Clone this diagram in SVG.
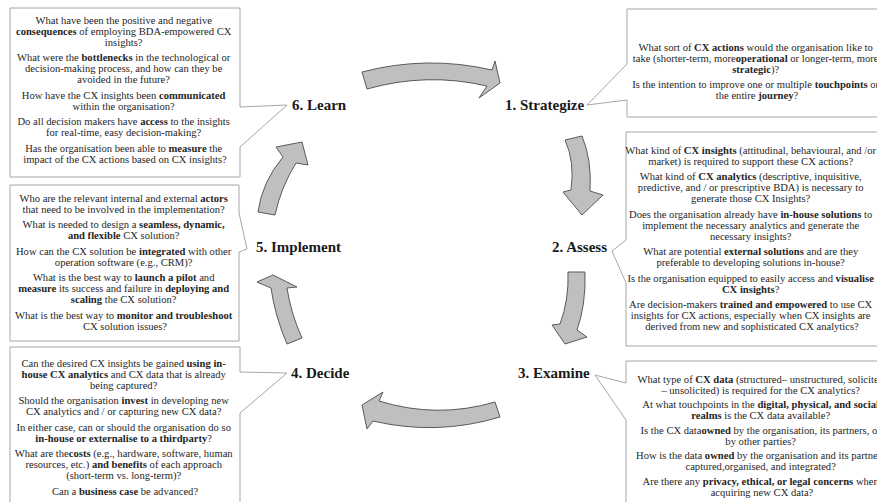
<svg xmlns="http://www.w3.org/2000/svg" width="877" height="502" viewBox="0 0 877 502">
<style>
.box{fill:#fff;stroke:#a6a6a6;stroke-width:1}
.arr{fill:#bfbfbf;stroke:#5a5a5a;stroke-width:1;stroke-linejoin:miter}
.t{font-family:"Liberation Serif","Times New Roman",serif;font-size:10.6px;fill:#262626;text-anchor:middle}
.t tspan.b,.b{font-weight:bold}
.lbl{font-family:"Liberation Serif","Times New Roman",serif;font-size:15px;font-weight:bold;fill:#1a1a1a}
</style>
<rect width="877" height="502" fill="#fff"/>

<g id="connectors">
<path class="arr" d="M362,72 Q427,55 492,70 L495,61 L500,83 L479,98 L487,86 Q427,72 367,89 Z"/>
<path class="arr" d="M565,140 L582,136 Q592,160 590,191 L603,195 L582,215 L563,192 L571,190 Q575,162 565,140 Z"/>
<path class="arr" d="M568,272 L585,272 Q586,305 577,330 L587,337 L565,344 L552,325 L560,324 Q569,300 568,272 Z"/>
<path class="arr" d="M495,402 Q437,419 379,401 L383,392 L362,405 L367,429 L373,421 Q437,436 500,417 Z"/>
<path class="arr" d="M287,344 Q275,316 271,288 L257,282 L273,275 L297,287 L287,288 Q291,314 302,338 Z"/>
<path class="arr" d="M258,212 Q262,182 283,157 L276,147 L302,142 L308,165 L296,163 Q281,187 275,215 Z"/>
</g>

<g id="learn">
<path class="box" d="M10,8 H240 V107 L287,105 L240,147 V177 H10 Z"/>
<text class="lbl" x="292" y="110">6. Learn</text>
<text class="t">
<tspan x="125" y="23.5">What have been the positive and negative</tspan>
<tspan x="125" y="34.5"><tspan class="b">consequences</tspan> of employing BDA-empowered CX</tspan>
<tspan x="125" y="45.5">insights?</tspan>
<tspan x="125" y="61">What were the <tspan class="b">bottlenecks</tspan> in the technological or</tspan>
<tspan x="125" y="72">decision-making process, and how can they be</tspan>
<tspan x="125" y="83">avoided in the future?</tspan>
<tspan x="125" y="98.5">How have the CX insights been <tspan class="b">communicated</tspan></tspan>
<tspan x="125" y="109.5">within the organisation?</tspan>
<tspan x="125" y="125">Do all decision makers have <tspan class="b">access</tspan> to the insights</tspan>
<tspan x="125" y="136">for real-time, easy decision-making?</tspan>
<tspan x="125" y="151.5">Has the organisation been able to <tspan class="b">measure</tspan> the</tspan>
<tspan x="125" y="162.5">impact of the CX actions based on CX insights?</tspan>
</text>
</g>

<g id="implement">
<path class="box" d="M10,185 H239 V213 L247,249 L239,252 V341 H10 Z"/>
<text class="lbl" x="256" y="252">5. Implement</text>
<text class="t">
<tspan x="125" y="201.5">Who are the relevant internal and external <tspan class="b">actors</tspan></tspan>
<tspan x="125" y="212.5">that need to be involved in the implementation?</tspan>
<tspan x="125" y="228">What is needed to design a <tspan class="b">seamless, dynamic,</tspan></tspan>
<tspan x="125" y="239"><tspan class="b">and flexible</tspan> CX solution?</tspan>
<tspan x="125" y="254.5">How can the CX solution be <tspan class="b">integrated</tspan> with other</tspan>
<tspan x="125" y="265.5">operation software (e.g., CRM)?</tspan>
<tspan x="125" y="281">What is the best way to <tspan class="b">launch a pilot</tspan> and</tspan>
<tspan x="125" y="292"><tspan class="b">measure</tspan> its success and failure in <tspan class="b">deploying and</tspan></tspan>
<tspan x="125" y="303"><tspan class="b">scaling</tspan> the CX solution?</tspan>
<tspan x="125" y="318.5">What is the best way to <tspan class="b">monitor and troubleshoot</tspan></tspan>
<tspan x="125" y="329.5">CX solution issues?</tspan>
</text>
</g>

<g id="decide">
<path class="box" d="M10,347 H240 V372 L287,373 L240,413 V512 H10 Z"/>
<text class="lbl" x="291" y="378">4. Decide</text>
<text class="t">
<tspan x="125" y="366.5">Can the desired CX insights be gained <tspan class="b">using in-</tspan></tspan>
<tspan x="125" y="377.5"><tspan class="b">house CX analytics</tspan> and CX data that is already</tspan>
<tspan x="125" y="388.5">being captured?</tspan>
<tspan x="125" y="404">Should the organisation <tspan class="b">invest</tspan> in developing new</tspan>
<tspan x="125" y="415">CX analytics and / or capturing new CX data?</tspan>
<tspan x="125" y="430.5">In either case, can or should the organisation do so</tspan>
<tspan x="125" y="441.5"><tspan class="b">in-house or externalise to a thirdparty</tspan>?</tspan>
<tspan x="125" y="457">What are the<tspan class="b">costs</tspan> (e.g., hardware, software, human</tspan>
<tspan x="125" y="468">resources, etc.) <tspan class="b">and benefits</tspan> of each approach</tspan>
<tspan x="125" y="479">(short-term vs. long-term)?</tspan>
<tspan x="125" y="494.5">Can a <tspan class="b">business case</tspan> be advanced?</tspan>
</text>
</g>

<g id="strategize">
<path class="box" d="M627,9 H892 V117 H627 V100 L587,105 L627,64 Z"/>
<text class="lbl" x="505" y="110">1. Strategize</text>
<text class="t">
<tspan x="757" y="50.5">What sort of <tspan class="b">CX actions</tspan> would the organisation like to</tspan>
<tspan x="757" y="61.5">take (shorter-term, more<tspan class="b">operational</tspan> or longer-term, more</tspan>
<tspan x="757" y="72.5"><tspan class="b">strategic</tspan>)?</tspan>
<tspan x="757" y="88">Is the intention to improve one or multiple <tspan class="b">touchpoints</tspan> or</tspan>
<tspan x="757" y="99">the entire <tspan class="b">journey</tspan>?</tspan>
</text>
</g>

<g id="assess">
<path class="box" d="M626,132 H892 V346 H626 V283 L612,251 L626,240 Z"/>
<text class="lbl" x="552" y="252">2. Assess</text>
<text class="t">
<tspan x="752" y="153.5">What kind of <tspan class="b">CX insights</tspan> (attitudinal, behavioural, and /or</tspan>
<tspan x="752" y="164.5">market) is required to support these CX actions?</tspan>
<tspan x="752" y="180">What kind of <tspan class="b">CX analytics</tspan> (descriptive, inquisitive,</tspan>
<tspan x="752" y="191">predictive, and / or prescriptive BDA) is necessary to</tspan>
<tspan x="752" y="202">generate those CX Insights?</tspan>
<tspan x="752" y="217.5">Does the organisation already have <tspan class="b">in-house solutions</tspan> to</tspan>
<tspan x="752" y="228.5">implement the necessary analytics and generate the</tspan>
<tspan x="752" y="239.5">necessary insights?</tspan>
<tspan x="752" y="255">What are potential <tspan class="b">external solutions</tspan> and are they</tspan>
<tspan x="752" y="266">preferable to developing solutions in-house?</tspan>
<tspan x="752" y="281.5">Is the organisation equipped to easily access and <tspan class="b">visualise</tspan></tspan>
<tspan x="752" y="292.5"><tspan class="b">CX insights</tspan>?</tspan>
<tspan x="752" y="308">Are decision-makers <tspan class="b">trained and empowered</tspan> to use CX</tspan>
<tspan x="752" y="319">insights for CX actions, especially when CX insights are</tspan>
<tspan x="752" y="330">derived from new and sophisticated CX analytics?</tspan>
</text>
</g>

<g id="examine">
<path class="box" d="M626,361 H892 V512 H626 V420 L595,375 L626,383 Z"/>
<text class="lbl" x="518" y="378">3. Examine</text>
<text class="t">
<tspan x="762" y="382.5">What type of <tspan class="b">CX data</tspan> (structured– unstructured, solicited</tspan>
<tspan x="762" y="393.5">– unsolicited) is required for the CX analytics?</tspan>
<tspan x="762" y="408">At what touchpoints in the <tspan class="b">digital, physical, and social</tspan></tspan>
<tspan x="762" y="419"><tspan class="b">realms</tspan> is the CX data available?</tspan>
<tspan x="762" y="433.5">Is the CX data<tspan class="b">owned</tspan> by the organisation, its partners, or</tspan>
<tspan x="762" y="444.5">by other parties?</tspan>
<tspan x="762" y="459">How is the data <tspan class="b">owned</tspan> by the organisation and its partners</tspan>
<tspan x="762" y="470">captured,organised, and integrated?</tspan>
<tspan x="762" y="484.5">Are there any <tspan class="b">privacy, ethical, or legal concerns</tspan> when</tspan>
<tspan x="762" y="495.5">acquiring new CX data?</tspan>
</text>
</g>
</svg>
